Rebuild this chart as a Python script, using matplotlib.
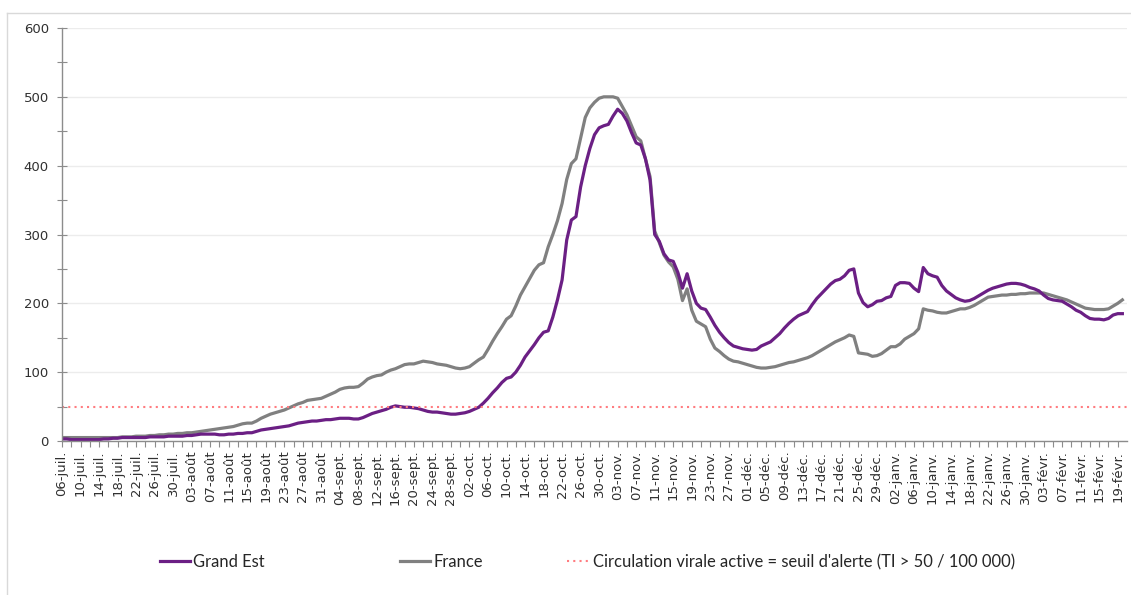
import os

import matplotlib
matplotlib.use("Agg")
import matplotlib.pyplot as plt
from matplotlib.font_manager import FontProperties
from matplotlib.lines import Line2D
import pandas as pd

# taux d'incidence glissant, un point par jour a partir du 06-juil.
start_date = "2020-07-06"

grand_est = [
    3, 3, 2, 2, 2, 2, 2, 2, 2, 3,
    3, 4, 4, 5, 5, 5, 5, 5, 5, 6,
    6, 6, 6, 7, 7, 7, 7, 8, 8, 9,
    10, 10, 10, 10, 9, 9, 10, 10, 11, 11,
    12, 12, 14, 16, 17, 18, 19, 20, 21, 22,
    24, 26, 27, 28, 29, 29, 30, 31, 31, 32,
    33, 33, 33, 32, 32, 34, 37, 40, 42, 44,
    46, 49, 51, 50, 49, 49, 48, 47, 45, 43,
    42, 42, 41, 40, 39, 39, 40, 41, 43, 46,
    49, 55, 62, 70, 77, 85, 91, 93, 100, 110,
    122, 131, 140, 150, 158, 160, 180, 205, 234, 292,
    321, 326, 369, 400, 425, 445, 455, 458, 460, 472,
    482, 476, 465, 448, 433, 430, 410, 379, 300, 290,
    272, 263, 261, 245, 222, 243, 218, 200, 193, 191,
    180, 168, 158, 150, 143, 138, 136, 134, 133, 132,
    133, 138, 141, 144, 150, 156, 164, 171, 177, 182,
    185, 188, 198, 207, 214, 221, 228, 233, 235, 240,
    248, 250, 215, 201, 195, 198, 203, 204, 208, 210,
    226, 230, 230, 229, 222, 217, 252, 243, 240, 238,
    226, 218, 213, 208, 205, 203, 204, 207, 211, 215,
    219, 222, 224, 226, 228, 229, 229, 228, 226, 223,
    221, 218, 212, 207, 205, 204, 203, 199, 195, 190,
    187, 182, 178, 177, 177, 176, 178, 183, 185, 185,
]

france = [
    5, 5, 5, 5, 5, 5, 5, 5, 5, 5,
    5, 5, 5, 6, 6, 6, 7, 7, 7, 8,
    8, 9, 9, 10, 10, 11, 11, 12, 12, 13,
    14, 15, 16, 17, 18, 19, 20, 21, 23, 25,
    26, 26, 29, 33, 36, 39, 41, 43, 45, 48,
    51, 54, 56, 59, 60, 61, 62, 65, 68, 71,
    75, 77, 78, 78, 79, 84, 90, 93, 95, 96,
    100, 103, 105, 108, 111, 112, 112, 114, 116, 115,
    114, 112, 111, 110, 108, 106, 105, 106, 108, 113,
    118, 122, 133, 145, 156, 166, 177, 182, 196, 212,
    224, 236, 248, 256, 259, 282, 300, 320, 345, 380,
    403, 410, 440, 470, 484, 492, 498, 500, 500, 500,
    498, 486, 474, 458, 442, 436, 410, 384, 305, 288,
    270, 260, 253, 235, 204, 221, 190, 174, 170, 166,
    148, 135, 130, 124, 119, 116, 115, 113, 111, 109,
    107, 106, 106, 107, 108, 110, 112, 114, 115, 117,
    119, 121, 124, 128, 132, 136, 140, 144, 147, 150,
    154, 152, 128, 127, 126, 123, 124, 127, 132, 137,
    137, 141, 148, 152, 156, 163, 192, 190, 189, 187,
    186, 186, 188, 190, 192, 192, 194, 197, 201, 205,
    209, 210, 211, 212, 212, 213, 213, 214, 214, 215,
    215, 215, 215, 213, 211, 209, 207, 205, 202, 199,
    196, 193, 192, 191, 191, 191, 192, 196, 200, 205,
]

seuil_alerte = 50
mois = {7: "juil.", 8: "août", 9: "sept.", 10: "oct.", 11: "nov.",
        12: "déc.", 1: "janv.", 2: "févr."}

dates = pd.date_range(start_date, periods=len(grand_est), freq="D")
tick_dates = dates[::4]
tick_labels = [f"{d.day:02d}-{mois[d.month]}" for d in tick_dates]
y_ticks = list(range(0, 601, 100))

# police des graduations : le DejaVu Sans livre avec matplotlib (largeur normale)
tick_font = FontProperties(fname=os.path.join(matplotlib.get_data_path(), "fonts", "ttf", "DejaVuSans.ttf"),
                           size=9.5)

W, H = 1131, 595
fig = plt.figure(figsize=(W / 100, H / 100), dpi=100)
ax = fig.add_axes([62 / W, 1 - 441 / H, (1127 - 62) / W, (441 - 28) / H])

purple = "#6b1f84"
grey = "#808080"
pink = "#ff7c80"

ax.plot(dates, france, color=grey, lw=2.3, solid_joinstyle="round")
ax.plot(dates, grand_est, color=purple, lw=2.3, solid_joinstyle="round")
ax.axhline(seuil_alerte, color=pink, lw=1.5, ls=(0, (1, 2)))

ax.set_xlim(dates[0], dates[0] + pd.Timedelta(days=230))
ax.set_ylim(0, 600)
ax.set_yticks(y_ticks)
ax.set_yticks(range(50, 600, 100), minor=True)
ax.set_xticks(tick_dates)
ax.set_xticklabels(tick_labels, rotation=90, fontproperties=tick_font)
ax.set_yticklabels([str(v) for v in y_ticks], fontproperties=tick_font)
ax.set_xticks(dates[::2], minor=True)

for side in ["top", "right"]:
    ax.spines[side].set_visible(False)
for side in ["left", "bottom"]:
    ax.spines[side].set_color("#8c8c8c")
    ax.spines[side].set_linewidth(1.0)

ax.grid(axis="y", which="major", color="#ececec", lw=1)
ax.set_axisbelow(True)
ax.tick_params(axis="y", which="both", direction="inout", length=7, width=0.8,
               color="#8c8c8c", labelcolor="#303030", pad=6)
ax.tick_params(axis="x", which="major", direction="out", length=4, width=0.8,
               color="#8c8c8c", labelcolor="#303030", pad=3)
ax.tick_params(axis="x", which="minor", direction="out", length=4, width=0.8,
               color="#8c8c8c")

# cadre du graphique
fig.add_artist(Line2D([7 / W, 1], [1 - 13 / H, 1 - 13 / H], color="#d9d9d9", lw=1))
fig.add_artist(Line2D([7 / W, 7 / W], [0, 1 - 13 / H], color="#d9d9d9", lw=1))

legend_font = {"family": "Lato", "size": 11.9}
entries = [
    (Line2D([], [], color=purple, lw=2.3), "Grand Est", 160, 1.8),
    (Line2D([], [], color=grey, lw=2.3), "France", 400, 1.8),
    (Line2D([], [], color=pink, lw=1.5, ls=(0, (1, 2))),
     "Circulation virale active = seuil d'alerte (TI > 50 / 100 000)", 567, 1.4),
]
for handle, label, x0, hlen in entries:
    fig.legend([handle], [label], loc="center left", bbox_to_anchor=(x0 / W, 1 - 562 / H),
               frameon=False, prop=legend_font, handlelength=hlen, handletextpad=0.2,
               borderpad=0, borderaxespad=0, labelcolor="#262626")

fig.savefig("out.png", dpi=100)
